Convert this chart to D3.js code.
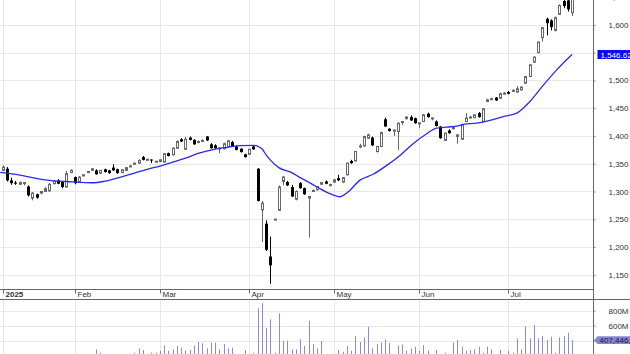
<!DOCTYPE html>
<html>
<head>
<meta charset="utf-8">
<title>Price chart</title>
<script src="https://d3js.org/d3.v7.min.js"></script>
<style>
  body { margin: 0; background: #fff; }
  svg text { font-family: "Liberation Sans", Arial, sans-serif; font-size: 8px; fill: #333; }
</style>
</head>
<body>
<svg width="630" height="354"></svg>
<script>
// OHLC per trading day (index 0 = first candle on screen)
var opens = [1338,1341,1320,1316,1313,1315,1309,1288,1295,1297,
  1300,1301,1314,1320,1318,1308,1334,1326,1317,1328,
  1334,1338,1338,1333,1340,1338,1343,1340,1334,1338,
  1345,1349,1351,1362,1357,1357.5,1354,1354,1353,1369,
  1366,1378,1394,1376,1397,1393,1389,1391,1399,1385,
  1383,1378,1377,1381,1389,1381,1377,1367,1367,1381,
  1341,1267,1242,1183,1250,1266,1318,1317,1308,1286,
  1315,1306,1288,1300,1303,1313,1318,1312,1317,1324,
  1317,1330,1355,1355,1381,1382,1396,1397,1372,1381,
  1430,1413,1410,1408,1425,1431,1434,1432,1423,1426,
  1440,1432,1426,1417,1392,1410,1413,1399,1394,1426,
  1433,1433,1441,1426,1462,1466,1469,1468,1476,1479,
  1481,1479,1483,1495,1507,1533,1550,1577,1611,1608,
  1590,1619,1643,1644,1622];
var highs = [1347,1344,1325,1319,1318,1317,1311,1299,1296,1301,
  1308,1315,1320,1322,1319,1337,1340,1327,1328,1331,
  1337,1342,1340,1339,1341,1339,1349,1341,1340,1344,
  1348,1352,1358,1364,1359,1358,1355,1358,1369,1370,
  1379,1392,1396,1398,1399,1394,1392,1394,1400,1387,
  1385,1379,1388,1393,1391,1383,1378,1368,1377,1383,
  1342,1283,1248,1219,1250.5,1311,1328,1319,1312,1302,
  1317,1307,1292,1303,1310,1317,1320,1314,1322,1330,
  1326,1352,1357,1373,1386,1400,1404,1399,1382,1408,
  1433,1414,1412,1424,1427,1436,1437,1433,1424,1440,
  1442,1433,1428,1418,1406,1412,1417,1403,1421,1441,
  1436,1439,1443,1450,1467,1469,1470,1478,1479,1481,
  1484,1490,1489,1508,1529,1543,1570,1596,1613,1610,
  1615,1637,1650,1652,1655];
var lows = [1337,1318,1312,1312,1312,1311,1291,1284,1287,1295,
  1299,1300,1313,1313,1306,1307,1333,1313,1316,1327,
  1333,1337,1330,1332,1334,1332,1337,1332,1333,1337,
  1344,1348,1350,1356,1355,1351,1352,1353,1352,1363,
  1365,1377,1389,1375,1392,1384,1387,1390,1391,1377,
  1377,1369,1376,1380,1380,1374,1370,1361,1366,1375,
  1282,1209,1193,1134,1249.5,1265,1311,1310,1290,1284,
  1305,1294,1217,1299,1302,1312,1313,1309,1316,1319,
  1316,1329,1350,1354,1378,1381,1395,1382,1370,1380,
  1416,1408,1400,1375,1420,1430,1427,1422,1414,1425,
  1433,1428,1417,1395,1391,1404,1412,1386,1393,1425,
  1432,1432,1433,1425,1461,1465,1463,1467,1475,1475,
  1480,1478,1482,1494,1506,1532,1549,1570,1581,1590,
  1588,1618,1630,1624,1616];
var closes = [1344,1320,1315,1314,1316,1316,1293,1297,1289,1300,
  1305,1313,1318,1314,1308,1332,1338,1315,1326,1330,
  1336,1341,1331,1338,1335,1333,1338,1333,1339,1343,
  1346,1351,1356,1357,1358,1357,1354.5,1357,1368,1364,
  1378,1390,1390,1394,1393,1385,1390,1392,1392,1378,
  1378,1378.5,1386,1391,1381,1375,1371,1362,1376,1376,
  1283,1279,1195,1167,1250.3,1308,1326,1311,1291,1300,
  1306,1295,1291,1302,1309,1316,1314,1312.5,1321,1320,
  1325,1351,1351,1372,1382,1399,1402,1383,1381,1406,
  1417,1409,1410.5,1423,1426,1434,1428,1423,1423.5,1438,
  1434,1432.5,1418,1396,1405,1405,1416,1402,1420,1432,
  1434,1438,1434,1449,1465,1467,1464,1476,1477,1476,
  1482,1485,1488,1507,1528,1542,1569,1595,1603,1596,
  1613,1635,1634,1628,1648];
// volume in millions
var volumes = [190,175,205,160,180,170,210,195,165,185,
  150,200,170,160,190,215,180,205,160,175,
  170,195,285,240,200,185,210,175,190,205,
  195,240,298,276,205,240,240,267,338,267,
  285,329,307,267,276,338,383,365,298,373,
  373,285,356,298,307,210,200,276,210,240,
  832,898,573,685,240,765,400,400,285,285,
  418,329,667,356,298,396,215,205,210,276,
  253,329,267,462,383,445,587,298,356,373,
  418,373,215,338,351,267,298,320,267,342,
  267,210,276,215,240,210,373,409,320,267,
  276,285,320,240,320,285,215,276,210,267,
  240,431,285,587,431,609,431,462,409,453,
  240,445,462,507,407.446];
// moving average (index, value)
var maIdx = [-0.6,4,7,10,13,15,18,21,24,28,31,34,37,40,43,46,50,53,56,59,60,61,62,64,65,68,70,71,74,77,
  79.4,81.7,84,87.2,90.4,93.5,96.6,99.8,102.1,104.5,107.2,108.4,111.6,114.7,117.8,121,122.5,124.1,127.2,130.4,134];
var maVals = [1334.3,1329.5,1325,1320.8,1318.5,1318,1316.3,1315.7,1318.5,1326.5,1333,1340,1345.7,1352.7,1360,1368.5,1376.3,1379.6,1382.5,1383,1381.5,1377,1366,1349,1343,1334,1325,1321,1308,1296,
  1290.5,1302,1320,1331,1347,1365,1386,1404,1414,1416,1418,1421,1423,1428,1435,1441,1450,1462,1491,1519,1546.62];

var monthLabels = ["2025","Feb","Mar","Apr","May","Jun","Jul"];
var monthIdx = [0,17,37,58,78,98,119];
var priceTicks = [1150,1200,1250,1300,1350,1400,1450,1500,1550,1600,1650];
var volTicks = [200,400,600,800];
var lastMa = "1,546.62";
var lastVol = "407,446,000";

var svg = d3.select("svg");
var axisX = 593.5, priceBottom = 289.5, volTop = 299.5, H = 354;

var x = d3.scaleLinear().domain([0, 134]).range([2.7, 572]);
var y = d3.scaleLinear().domain([1150, 1650]).range([274.8, -2.9]);
var yv = d3.scaleLinear().domain([0, 800]).range([370.7, 310.7]);
var cx = function(i){ return Math.round(x(i)) + 0.5; };

var defs = svg.append("defs");
defs.append("clipPath").attr("id","cp").append("rect").attr("x",0).attr("y",0).attr("width",axisX).attr("height",priceBottom);
defs.append("clipPath").attr("id","cv").append("rect").attr("x",0).attr("y",volTop).attr("width",axisX).attr("height",H-volTop);

// grids
var grid = svg.append("g").attr("stroke","#e8e8e8").attr("stroke-width",1);
grid.selectAll(".hp").data(priceTicks).enter().append("line")
  .attr("x1",0).attr("x2",axisX)
  .attr("y1",d=>Math.round(y(d))+0.5).attr("y2",d=>Math.round(y(d))+0.5);
grid.selectAll(".hv").data(volTicks).enter().append("line")
  .attr("x1",0).attr("x2",axisX)
  .attr("y1",d=>Math.round(yv(d))+0.5).attr("y2",d=>Math.round(yv(d))+0.5);
grid.selectAll(".vp").data(monthIdx).enter().append("line")
  .attr("x1",d=>cx(d)).attr("x2",d=>cx(d)).attr("y1",0).attr("y2",priceBottom);
grid.selectAll(".vv").data(monthIdx).enter().append("line")
  .attr("x1",d=>cx(d)).attr("x2",d=>cx(d)).attr("y1",volTop).attr("y2",H);

// volume bars
var idx = d3.range(opens.length);
svg.append("g").attr("clip-path","url(#cv)")
  .selectAll("line").data(idx).enter().append("line")
  .attr("x1",d=>cx(d)).attr("x2",d=>cx(d))
  .attr("y1",d=>yv(volumes[d])).attr("y2",H)
  .attr("stroke","#8c8cd6").attr("stroke-width",1);

// candles
var cg = svg.append("g").attr("clip-path","url(#cp)");
var c = cg.selectAll("g").data(idx).enter().append("g");
c.append("line")
  .attr("x1",d=>cx(d)).attr("x2",d=>cx(d))
  .attr("y1",d=>y(highs[d])).attr("y2",d=>y(lows[d]))
  .attr("stroke",d=>closes[d] < opens[d] ? "#000" : "#666").attr("stroke-width",1);
c.append("rect")
  .attr("x",d=>closes[d] < opens[d] ? cx(d)-1.5 : cx(d)-1)
  .attr("width",d=>closes[d] < opens[d] ? 3 : 2)
  .attr("y",d=>y(Math.max(opens[d],closes[d])))
  .attr("height",d=>Math.max(1, Math.abs(y(opens[d])-y(closes[d]))))
  .attr("fill",d=>closes[d] < opens[d] ? "#000" : "#fff")
  .attr("stroke",d=>closes[d] < opens[d] ? "none" : "#666")
  .attr("stroke-width",1);

// moving average
var ma = d3.line().x((d,i)=>x(maIdx[i])).y(d=>y(d)).curve(d3.curveMonotoneX);
cg.append("path").datum(maVals).attr("d",ma)
  .attr("fill","none").attr("stroke","#2a2af2").attr("stroke-width",1.3);

// frame
svg.append("line").attr("x1",0).attr("x2",axisX).attr("y1",priceBottom).attr("y2",priceBottom).attr("stroke","#666");
svg.append("line").attr("x1",0).attr("x2",630).attr("y1",volTop).attr("y2",volTop).attr("stroke","#666");
svg.append("line").attr("x1",axisX).attr("x2",axisX).attr("y1",0).attr("y2",H).attr("stroke","#666");

// price axis (the 1,550 label sits under the last-value tag)
var pa = svg.append("g").attr("transform","translate(" + axisX + ",0)")
  .call(d3.axisRight(y).tickValues(priceTicks).tickSize(2).tickPadding(13)
    .tickFormat(d=>d === 1550 ? "" : d3.format(",")(d)));
pa.select(".domain").remove();
pa.selectAll("line").attr("stroke","#888");
pa.selectAll("text").attr("fill",null);
pa.attr("font-size",null).attr("font-family",null);

// volume axis (400M is covered by the volume tag)
var va = svg.append("g").attr("transform","translate(" + axisX + ",0)")
  .call(d3.axisRight(yv).tickValues(volTicks).tickSize(2).tickPadding(13)
    .tickFormat(d=>d === 400 ? "" : d + "M"));
va.select(".domain").remove();
va.selectAll("line").attr("stroke","#888");
va.selectAll("text").attr("fill",null);
va.attr("font-size",null).attr("font-family",null);

// date axis
var da = svg.append("g").attr("transform","translate(0," + priceBottom + ")")
  .call(d3.axisBottom(x).tickValues(monthIdx).tickSize(4).tickFormat((d,i)=>monthLabels[i]));
da.select(".domain").remove();
da.selectAll(".tick").attr("transform",d=>"translate(" + cx(d) + ",0)");
da.selectAll("line").attr("stroke","#666");
da.selectAll("text").attr("text-anchor","start").attr("x",2).attr("y",2).attr("dy","0.71em").attr("fill","#222")
  .style("font-weight",(d,i)=>i===0 ? "bold" : "normal");
da.attr("font-size",null).attr("font-family",null);

// last value tags
svg.append("rect").attr("x",597.5).attr("y",y(1546.62)-4.5).attr("width",40).attr("height",9).attr("fill","#0a0af5");
svg.append("text").attr("x",600.5).attr("y",y(1546.62)+3).style("fill","#fff").text(lastMa);

var vy = yv(407.446);
svg.append("path")
  .attr("d","M594," + vy + "L597.5," + (vy-3.8) + "L632," + (vy-3.8) + "L632," + (vy+3.8) + "L597.5," + (vy+3.8) + "Z")
  .attr("fill","#8585d2");
svg.append("text").attr("x",599.5).attr("y",vy+3).style("fill","#1a1a40").text(lastVol);
</script>
</body>
</html>
